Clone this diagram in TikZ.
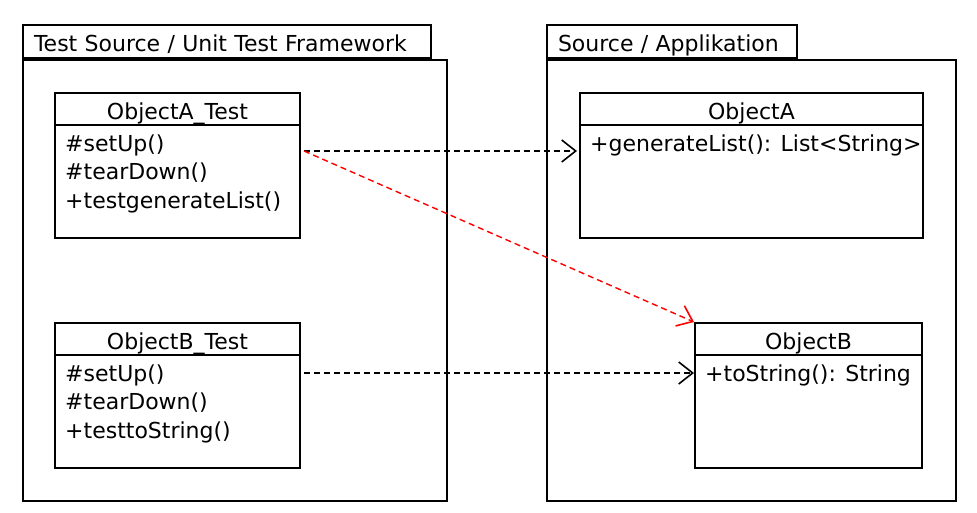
\documentclass[tikz,border=0pt]{standalone}
\usepackage{fontspec}
\setmainfont{DejaVu Sans}
\usetikzlibrary{arrows.meta}

\begin{document}
\begin{tikzpicture}[x=1pt, y=-1pt,
    pkg/.style={draw, line width=2pt, anchor=north west, inner sep=0pt},
    tab/.style={draw, line width=2pt, anchor=south west, inner xsep=11pt, inner ysep=0pt, minimum height=33pt, align=left, text height=21pt, text depth=0pt, font=\fontsize{22}{26}\selectfont},
    cls/.style={draw, line width=2pt, anchor=north west, minimum width=245pt, minimum height=145pt, inner sep=0pt},
    clsname/.style={anchor=north, minimum height=33pt, inner sep=0pt, text height=21pt, text depth=0pt, font=\fontsize{22}{26}\selectfont},
    ops/.style={anchor=north west, align=left, inner xsep=11pt, inner ysep=9pt, font=\fontsize{22}{28.5}\selectfont},
    dep/.style={dash pattern=on 6pt off 4pt, line width=1.4pt, -{Straight Barb[length=14pt, width=22pt, line width=1.6pt]}}
  ]
    \useasboundingbox (0,0) rectangle (977,513);

    % Test Source / Unit Test Framework
    \node[pkg, minimum width=424pt, minimum height=441pt] (testpkg) at (22,59) {};
    \node[tab, text width=386pt] (testtab) at (testpkg.north west) {Test Source / Unit Test Framework};

    \node[cls] (atest) at (54,92) {};
    \node[clsname] (atest-name) at (atest.north) {ObjectA\_Test};
    \draw[line width=2pt] (atest-name.south -| atest.west) -- (atest-name.south -| atest.east);
    \node[ops] (atest-ops) at (atest-name.south -| atest.west) {\#setUp()\\\#tearDown()\\+testgenerateList()};

    \node[cls] (btest) at (54,322) {};
    \node[clsname] (btest-name) at (btest.north) {ObjectB\_Test};
    \draw[line width=2pt] (btest-name.south -| btest.west) -- (btest-name.south -| btest.east);
    \node[ops] (btest-ops) at (btest-name.south -| btest.west) {\#setUp()\\\#tearDown()\\+testtoString()};

    % Source / Applikation
    \node[pkg, minimum width=409pt, minimum height=441pt] (srcpkg) at (546,59) {};
    \node[tab, text width=228pt] (srctab) at (srcpkg.north west) {Source / Applikation};

    \node[cls, minimum width=343pt] (obja) at (579,92) {};
    \node[clsname] (obja-name) at (obja.north) {ObjectA};
    \draw[line width=2pt] (obja-name.south -| obja.west) -- (obja-name.south -| obja.east);
    \node[ops] (obja-ops) at (obja-name.south -| obja.west) {+generateList(): List<String>};

    \node[cls, minimum width=227pt] (objb) at (694,322) {};
    \node[clsname] (objb-name) at (objb.north) {ObjectB};
    \draw[line width=2pt] (objb-name.south -| objb.west) -- (objb-name.south -| objb.east);
    \node[ops] (objb-ops) at (objb-name.south -| objb.west) {+toString(): String};

    % Abhaengigkeiten
    \draw[dep] ([shift={(3,59)}]atest.north east) -- ([shift={(-2,59)}]obja.north west);
    \draw[dep, red] ([shift={(3,59)}]atest.north east) -- (objb.north west);
    \draw[dep] ([shift={(3,51)}]btest.north east) -- ([shift={(0,51)}]objb.north west);
  \end{tikzpicture}
\end{document}
